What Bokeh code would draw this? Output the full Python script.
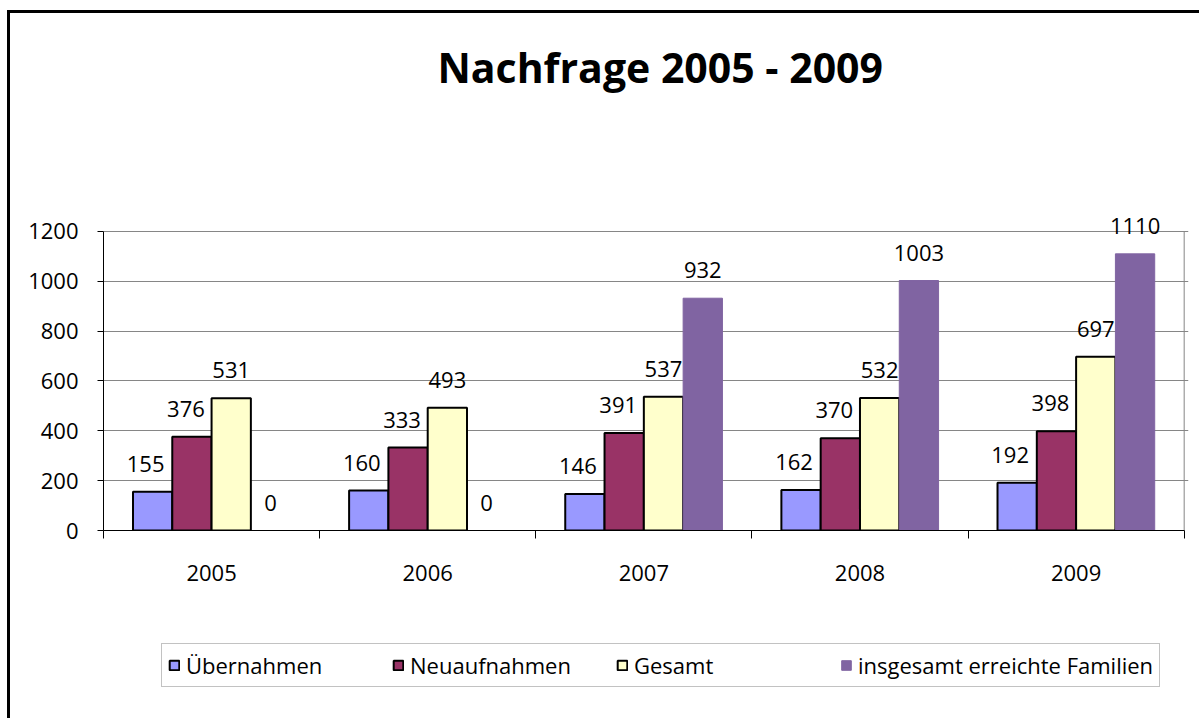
from bokeh.plotting import figure
from bokeh.layouts import column
from bokeh.models import (Range1d, FixedTicker, Legend, LegendItem, Title, ColumnDataSource)
from bokeh.core.properties import value
from bokeh.embed import file_html
from bokeh.resources import INLINE

# ---- data ----
years = ["2005", "2006", "2007", "2008", "2009"]
uebernahmen = [155, 160, 146, 162, 192]
neuaufnahmen = [376, 333, 391, 370, 398]
gesamt = [531, 493, 537, 532, 697]
familien = [0, 0, 932, 1003, 1110]
series_names = ["Übernahmen", "Neuaufnahmen", "Gesamt", "insgesamt erreichte Familien"]
y_ticks = [0, 200, 400, 600, 800, 1000, 1200]
title_text = "Nachfrage 2005 - 2009"

# ---- style ----
FONT = "Open Sans"
colors = ["#9999FF", "#993366", "#FFFFCC", "#8064A2"]
line_colors = ["black", "black", "black", "#8064A2"]
line_widths = [2, 2, 2, 1]
label_dx = [-7, -6, 0, 0]
GRID = "#868686"

W, H1, H2 = 1189, 600, 105
n = len(years)
y_top = y_ticks[-1]
p = figure(width=W, height=H1, x_range=Range1d(0, n + 0.02), y_range=Range1d(0, y_top + 100),
           output_backend="svg", toolbar_location=None,
           min_border_left=93, min_border_right=11, min_border_top=193, min_border_bottom=83)
p.background_fill_color = "white"
p.border_fill_color = "white"
p.outline_line_color = None

# title (spacer first so the title sits higher above the plot area)
p.add_layout(Title(text=" ", text_font_size="1px", standoff=109), "above")
p.add_layout(Title(text=title_text, align="left", offset=334, vertical_align="bottom",
                   standoff=0, text_font=FONT, text_font_size="41px",
                   text_font_style="bold", text_color="black"), "above")

bar_w = 1 / 5.5
all_series = [uebernahmen, neuaufnahmen, gesamt, familien]
sources = []
for k, vals in enumerate(all_series):
    xs = [i + 0.5 + (k - 1.5) * bar_w for i in range(n)]
    src = ColumnDataSource(dict(x=xs, top=vals, lab=[str(v) for v in vals]))
    sources.append(src)
    p.vbar(x="x", top="top", bottom=0, width=bar_w, source=src,
           fill_color=colors[k], line_color=line_colors[k], line_width=line_widths[k])
    p.text(x="x", y="top", text="lab", source=src, x_offset=label_dx[k], y_offset=-28,
           text_align="center", text_baseline="middle", text_font=value(FONT),
           text_font_size="22px", text_color="black")

# right border of the plot area
p.segment(x0=[n], y0=[0], x1=[n], y1=[y_top], line_color=GRID, line_width=1)

# y axis
p.yaxis.ticker = FixedTicker(ticks=y_ticks)
p.yaxis.bounds = (0, y_top)
p.yaxis.major_tick_out = 6
p.yaxis.major_tick_in = 0
p.yaxis.minor_tick_line_color = None
p.yaxis.axis_line_color = "black"
p.yaxis.major_tick_line_color = "black"
p.yaxis.major_label_text_font = FONT
p.yaxis.major_label_text_font_size = "22px"
p.yaxis.major_label_text_color = "black"
p.yaxis.major_label_standoff = 19

# x axis
centers = [i + 0.5 for i in range(n)]
bounds = [float(i) for i in range(n + 1)]
p.xaxis.ticker = FixedTicker(ticks=centers, minor_ticks=bounds)
p.xaxis.bounds = (0, n)
p.xaxis.major_label_overrides = {c: y for c, y in zip(centers, years)}
p.xaxis.major_tick_line_color = None
p.xaxis.major_tick_out = 0
p.xaxis.major_tick_in = 0
p.xaxis.minor_tick_out = 8
p.xaxis.minor_tick_in = 0
p.xaxis.minor_tick_line_color = "black"
p.xaxis.axis_line_color = "black"
p.xaxis.major_label_text_font = FONT
p.xaxis.major_label_text_font_size = "22px"
p.xaxis.major_label_text_color = "black"
p.xaxis.major_label_standoff = 26

p.xgrid.grid_line_color = None
p.ygrid.ticker = FixedTicker(ticks=y_ticks)
p.ygrid.bounds = (0, n)
p.ygrid.grid_line_color = GRID
p.ygrid.grid_line_width = 1

# ---- legend strip below the chart (hidden copies of the series; only the key shows) ----
lg = figure(width=W, height=H2, x_range=Range1d(0, n + 0.02), y_range=Range1d(0, y_top + 100),
            x_axis_type=None, y_axis_type=None, output_backend="svg", toolbar_location=None,
            min_border=0, min_border_left=0, min_border_right=0, min_border_top=0,
            min_border_bottom=0)
lg.outline_line_color = None
lg.background_fill_color = "white"
lg.border_fill_color = "white"
items = []
for k, name in enumerate(series_names):
    r = lg.vbar(x="x", top="top", bottom=0, width=bar_w, source=sources[k],
                fill_color=colors[k], line_color=line_colors[k], line_width=line_widths[k],
                visible=False)
    items.append(LegendItem(label=name, renderers=[r]))
legend = Legend(items=items, orientation="horizontal", location=(58, 31),
                glyph_width=12, glyph_height=12, label_standoff=6, spacing=20,
                label_width=186, padding=6, margin=0, border_line_color=GRID,
                border_line_width=1, label_text_font=FONT, label_text_font_size="22px",
                label_text_color="black", background_fill_alpha=1.0,
                inactive_fill_alpha=0.0)
lg.add_layout(legend)

layout = column(p, lg, spacing=0)

html = file_html(layout, INLINE)
# outer chart frame: black top and left edge around the whole chart
frame_css = ("<style>html,body{height:auto !important;overflow:hidden;}"
             "body{margin:10px 0 0 7px !important;border-left:3px solid #000;"
             "border-top:3px solid #000;}</style>")
html = html.replace("</head>", frame_css + "</head>", 1)
open("out.html", "w").write(html)
